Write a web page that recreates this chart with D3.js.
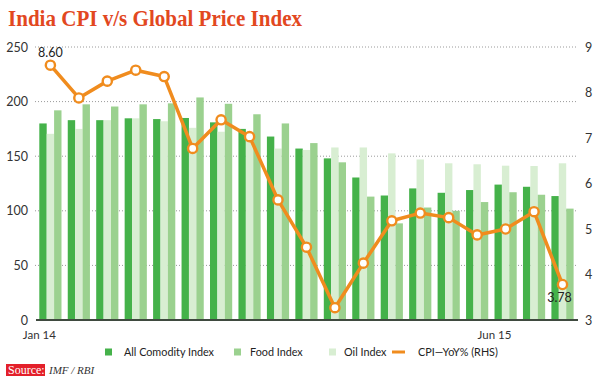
<!DOCTYPE html>
<html>
<head>
<meta charset="utf-8">
<script src="https://cdn.jsdelivr.net/npm/d3@7"></script>
<style>
  body { margin: 0; background: #fff; }
  svg { display: block; }
</style>
</head>
<body>
<div id="chart"></div>
<script>
// Data
const months = [
    'Jan 14', 'Feb 14', 'Mar 14', 'Apr 14', 'May 14', 'Jun 14', 'Jul 14', 'Aug 14', 'Sep 14', 'Oct 14',
    'Nov 14', 'Dec 14', 'Jan 15', 'Feb 15', 'Mar 15', 'Apr 15', 'May 15', 'Jun 15', 'Jul 15'
];
const allCommodity = [180, 183, 183, 184.7, 184, 185, 181, 175, 168, 157, 148, 130.5, 114, 120.5, 116.5, 119, 124, 122, 113.5];
const foodIndex = [192, 197.5, 195.5, 197.5, 198.4, 203.8, 198, 188.4, 180, 162, 144.4, 113, 88.5, 103, 100, 108, 117, 114.7, 102];
const oilIndex = [170.5, 175, 183, 184.7, 182, 176, 172.4, 165, 157, 155.7, 158, 158, 152.6, 147, 143.5, 142.6, 141.3, 141, 143.5];
const cpiYoY = [8.60, 7.88, 8.25, 8.49, 8.35, 6.77, 7.40, 7.03, 5.64, 4.60, 3.27, 4.25, 5.18, 5.35, 5.25, 4.87, 5.00, 5.38, 3.78];

const leftTicks = [0, 50, 100, 150, 200, 250];
const rightTicks = [3, 4, 5, 6, 7, 8, 9];
const xTickIdx = [0, 16];
const xTickText = ['Jan 14', 'Jun 15'];

// bar order inside each month, as drawn: dark, light, medium
const series = [
    { key: 'all', name: 'All Comodity Index', values: allCommodity, color: '#45b24a' },
    { key: 'oil', name: 'Oil Index', values: oilIndex, color: '#d8eed2' },
    { key: 'food', name: 'Food Index', values: foodIndex, color: '#9bd18f' }
];
const lineColor = '#f08c1e';

const sans = 'Lato, "Open Sans", sans-serif';
const serif = '"Liberation Serif", "DejaVu Serif", serif';

const width = 600;
const height = 383;

const svg = d3.select('#chart')
    .append('svg')
    .attr('width', width)
    .attr('height', height)
    .style('font-family', sans);

// Scales
const x = d3.scaleBand()
    .domain(months)
    .range([39.3, 573.6])
    .paddingInner(0.22)
    .paddingOuter(0);

const xSub = d3.scaleBand()
    .domain(series.map(s => s.key))
    .range([0, x.bandwidth()]);

const yLeft = d3.scaleLinear().domain([0, 250]).range([320, 47]);
const yRight = d3.scaleLinear().domain([3, 9]).range([320, 47]);

// Title
svg.append('text')
    .attr('x', 8)
    .attr('y', 26)
    .style('font-family', serif)
    .style('font-weight', 'bold')
    .style('font-size', '23px')
    .attr('textLength', 294)
    .attr('lengthAdjust', 'spacingAndGlyphs')
    .attr('fill', '#e2481f')
    .text('India CPI v/s Global Price Index');

// Gridlines (dotted)
svg.append('g')
    .selectAll('line')
    .data(leftTicks.filter(d => d > 0))
    .enter()
    .append('line')
    .attr('x1', 35)
    .attr('x2', 578)
    .attr('y1', d => yLeft(d))
    .attr('y2', d => yLeft(d))
    .attr('stroke', '#9a9a9a')
    .attr('stroke-width', 1)
    .attr('stroke-dasharray', '1,2');

// Bars
const groups = svg.append('g')
    .selectAll('g')
    .data(months)
    .enter()
    .append('g')
    .attr('transform', d => `translate(${x(d)},0)`);

groups.selectAll('rect')
    .data((d, i) => series.map(s => ({ key: s.key, value: s.values[i], color: s.color })))
    .enter()
    .append('rect')
    .attr('x', d => xSub(d.key))
    .attr('width', xSub.bandwidth())
    .attr('y', d => yLeft(d.value))
    .attr('height', d => yLeft(0) - yLeft(d.value))
    .attr('fill', d => d.color);

// Baseline
svg.append('line')
    .attr('x1', 36)
    .attr('x2', 578)
    .attr('y1', yLeft(0))
    .attr('y2', yLeft(0))
    .attr('stroke', '#3f4a3f')
    .attr('stroke-width', 2);

// Left axis
const leftAxis = d3.axisLeft(yLeft)
    .tickValues(leftTicks)
    .tickSize(0)
    .tickPadding(0);
const gl = svg.append('g')
    .attr('transform', 'translate(28,0)')
    .call(leftAxis);
gl.select('.domain').remove();
gl.selectAll('text')
    .style('font-family', sans)
    .style('font-size', '12.5px')
    .attr('fill', '#333');

// Right axis
const rightAxis = d3.axisRight(yRight)
    .tickValues(rightTicks)
    .tickFormat(d3.format('d'))
    .tickSize(0)
    .tickPadding(0);
const gr = svg.append('g')
    .attr('transform', 'translate(585,0)')
    .call(rightAxis);
gr.select('.domain').remove();
gr.selectAll('text')
    .style('font-family', sans)
    .style('font-size', '12.5px')
    .attr('fill', '#333');

// Bottom labels (first one and one near the end)
const bottomAxis = d3.axisBottom(x)
    .tickValues(xTickIdx.map(i => months[i]))
    .tickFormat((d, i) => xTickText[i])
    .tickSize(0)
    .tickPadding(0);
const gb = svg.append('g')
    .attr('transform', 'translate(0,331)')
    .call(bottomAxis);
gb.select('.domain').remove();
gb.selectAll('.tick')
    .attr('transform', d => `translate(${x(d)},0)`);
gb.selectAll('text')
    .style('font-family', sans)
    .style('font-size', '11.5px')
    .attr('fill', '#333');

// CPI line
const cx = (d, i) => x(months[i]) + x.bandwidth() / 2;
const line = d3.line()
    .x(cx)
    .y(d => yRight(d));

svg.append('path')
    .datum(cpiYoY)
    .attr('d', line)
    .attr('fill', 'none')
    .attr('stroke', lineColor)
    .attr('stroke-width', 3.5)
    .attr('stroke-linejoin', 'round');

svg.append('g')
    .selectAll('circle')
    .data(cpiYoY)
    .enter()
    .append('circle')
    .attr('cx', cx)
    .attr('cy', d => yRight(d))
    .attr('r', 4.6)
    .attr('fill', '#fff')
    .attr('stroke', lineColor)
    .attr('stroke-width', 2.4);

// Point labels: first and last
const last = cpiYoY.length - 1;
svg.append('text')
    .attr('x', cx(cpiYoY[0], 0))
    .attr('y', yRight(cpiYoY[0]) - 8)
    .attr('text-anchor', 'middle')
    .style('font-size', '12.5px')
    .attr('fill', '#222')
    .text(cpiYoY[0].toFixed(2));
svg.append('text')
    .attr('x', cx(cpiYoY[last], last) - 3)
    .attr('y', yRight(cpiYoY[last]) + 17)
    .attr('text-anchor', 'middle')
    .style('font-size', '12.5px')
    .attr('fill', '#222')
    .text(cpiYoY[last].toFixed(2));

// Legend
const legendItems = [
    { name: 'All Comodity Index', color: series[0].color, type: 'rect', x: 105, tx: 124 },
    { name: 'Food Index', color: series[2].color, type: 'rect', x: 234, tx: 250 },
    { name: 'Oil Index', color: series[1].color, type: 'rect', x: 329, tx: 344 },
    { name: 'CPI\u2014YoY% (RHS)', color: lineColor, type: 'line', x: 392, tx: 418 }
];
const legend = svg.append('g').attr('transform', 'translate(0,352)');
legendItems.forEach(item => {
    if (item.type === 'rect') {
        legend.append('rect')
            .attr('x', item.x)
            .attr('y', -3.5)
            .attr('width', 7)
            .attr('height', 7)
            .attr('fill', item.color);
    } else {
        legend.append('line')
            .attr('x1', item.x)
            .attr('x2', item.x + 13)
            .attr('y1', 0)
            .attr('y2', 0)
            .attr('stroke', item.color)
            .attr('stroke-width', 3);
    }
    legend.append('text')
        .attr('x', item.tx)
        .attr('y', 4)
        .style('font-size', '10.8px')
        .attr('fill', '#222')
        .text(item.name);
});

// Source
svg.append('rect')
    .attr('x', 6)
    .attr('y', 364)
    .attr('width', 39)
    .attr('height', 12)
    .attr('fill', '#e3202a');
svg.append('text')
    .attr('x', 8)
    .attr('y', 374)
    .style('font-family', serif)
    .style('font-size', '12px')
    .attr('fill', '#fff')
    .text('Source:');
svg.append('text')
    .attr('x', 49)
    .attr('y', 374)
    .style('font-family', serif)
    .style('font-style', 'italic')
    .style('font-size', '11px')
    .attr('fill', '#333')
    .text('IMF / RBI');
</script>
</body>
</html>
